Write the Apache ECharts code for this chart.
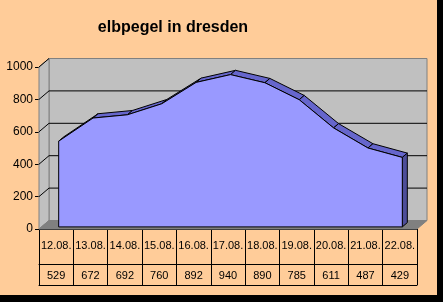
<!DOCTYPE html>
<html><head><meta charset="utf-8">
<script src="https://cdn.jsdelivr.net/npm/echarts@6/dist/echarts.min.js"></script>
<style>html,body{margin:0;padding:0;background:#000;width:443px;height:302px;overflow:hidden}#c{width:437px;height:295px}</style>
</head><body><div id="c"></div>
<script>
var titleText = 'elbpegel in dresden';
var dates = ['12.08.','13.08.','14.08.','15.08.','16.08.','17.08.','18.08.','19.08.','20.08.','21.08.','22.08.'];
var values = [529, 672, 692, 760, 892, 940, 890, 785, 611, 487, 429];
var yMin = 0, yMax = 1000, yStep = 200;
var wallTicks = [200, 400, 600, 800, 1000];

var DX = 10, DY = -8.5;          // depth of the 3D box
var FX = 2.5, FY = -2.1;         // area front face offset
var BX = 7.5, BY = -6.4;         // area back face offset
var FONT = 'Liberation Sans, Arial, sans-serif';

var chart = echarts.init(document.getElementById('c'), null, {renderer: 'canvas'});

function wallsRender(params, api) {
  var cs = params.coordSys;
  var x = cs.x, y = cs.y, w = cs.width, h = cs.height;
  var ch = [];
  ch.push({type: 'rect', shape: {x: x + DX, y: y + DY, width: w, height: h},
    style: {fill: '#C0C0C0', stroke: '#808080', lineWidth: 1}});
  ch.push({type: 'polygon', shape: {points: [[x, y], [x + DX, y + DY], [x + DX, y + h + DY], [x, y + h]]},
    style: {fill: '#C0C0C0', stroke: '#808080', lineWidth: 1}});
  ch.push({type: 'polygon', shape: {points: [[x, y + h], [x + DX, y + h + DY], [x + w + DX, y + h + DY], [x + w, y + h]]},
    style: {fill: '#808080', stroke: '#808080', lineWidth: 1}});
  wallTicks.forEach(function (v) {
    var py = api.coord([0, v])[1];
    if (v < yMax) {
      ch.push({type: 'line', shape: {x1: x + DX, y1: py + DY, x2: x + w + DX, y2: py + DY},
        style: {stroke: '#000', lineWidth: 1}});
    }
    ch.push({type: 'line', shape: {x1: x, y1: py, x2: x + DX, y2: py + DY},
      style: {stroke: '#000', lineWidth: 1}});
  });
  return {type: 'group', children: ch};
}

function areaRender(params, api) {
  var i = params.dataIndex;
  var n = values.length;
  var ch = [];
  var p = api.coord([i, values[i]]);
  if (i < n - 1) {
    var q = api.coord([i + 1, values[i + 1]]);
    ch.push({type: 'polygon', z2: 1,
      shape: {points: [[p[0] + FX, p[1] + FY], [q[0] + FX, q[1] + FY], [q[0] + BX, q[1] + BY], [p[0] + BX, p[1] + BY]]},
      style: {fill: '#6666CC', stroke: '#000', lineWidth: 1}});
  } else {
    var b = api.coord([i, 0]);
    ch.push({type: 'polygon', z2: 2,
      shape: {points: [[p[0] + FX, p[1] + FY], [p[0] + BX, p[1] + BY], [b[0] + BX, b[1] + BY], [b[0] + FX, b[1] + FY]]},
      style: {fill: '#4D4D99', stroke: '#000', lineWidth: 1}});
    var pts = [];
    var b0 = api.coord([0, 0]);
    pts.push([b0[0] + FX, b0[1] + FY]);
    for (var k = 0; k < n; k++) {
      var c = api.coord([k, values[k]]);
      pts.push([c[0] + FX, c[1] + FY]);
    }
    pts.push([b[0] + FX, b[1] + FY]);
    ch.push({type: 'polygon', z2: 3, shape: {points: pts},
      style: {fill: '#9999FF', stroke: '#000', lineWidth: 1}});
  }
  return {type: 'group', children: ch};
}

var option = {
  backgroundColor: '#FFCC99',
  animation: false,
  title: {
    text: titleText, left: 168, top: 15, textAlign: 'center',
    textStyle: {fontFamily: FONT, fontSize: 16, fontWeight: 'bold', color: '#000'}
  },
  grid: {left: 39, top: 67, width: 378, height: 162, containLabel: false},
  xAxis: [
    {type: 'category', data: dates, position: 'bottom', boundaryGap: true,
      axisLine: {show: true, lineStyle: {color: '#000', width: 1}},
      axisTick: {show: true, length: 56, interval: 0, lineStyle: {color: '#000', width: 1}},
      axisLabel: {interval: 0, margin: 11, fontFamily: FONT, fontSize: 11, color: '#000'},
      splitLine: {show: false}},
    {type: 'category', data: dates, position: 'bottom', offset: 35, boundaryGap: true,
      axisLine: {show: true, lineStyle: {color: '#000', width: 1}},
      axisTick: {show: false},
      axisLabel: {interval: 0, margin: 6, fontFamily: FONT, fontSize: 11, color: '#000',
        formatter: function (v, idx) { return String(values[idx]); }},
      splitLine: {show: false}},
    {type: 'category', data: dates, position: 'bottom', offset: 56, boundaryGap: true,
      axisLine: {show: true, lineStyle: {color: '#000', width: 1}},
      axisTick: {show: false}, axisLabel: {show: false}, splitLine: {show: false}}
  ],
  yAxis: {
    type: 'value', min: yMin, max: yMax, interval: yStep,
    axisLine: {show: true, lineStyle: {color: '#000', width: 1}},
    axisTick: {show: true, length: 4, lineStyle: {color: '#000', width: 1}},
    axisLabel: {margin: 6, fontFamily: FONT, fontSize: 12, color: '#000',
      formatter: function (v) { return String(v); }},
    splitLine: {show: false}
  },
  series: [
    {type: 'custom', name: 'walls', xAxisIndex: 0, yAxisIndex: 0, z: 1, clip: false, silent: true,
      renderItem: wallsRender, data: [[0, 0]]},
    {type: 'custom', name: 'elbpegel', xAxisIndex: 0, yAxisIndex: 0, z: 3, clip: false,
      renderItem: areaRender,
      data: values.map(function (v, i) { return [i, v]; })}
  ]
};
chart.setOption(option);
</script>
</body></html>
